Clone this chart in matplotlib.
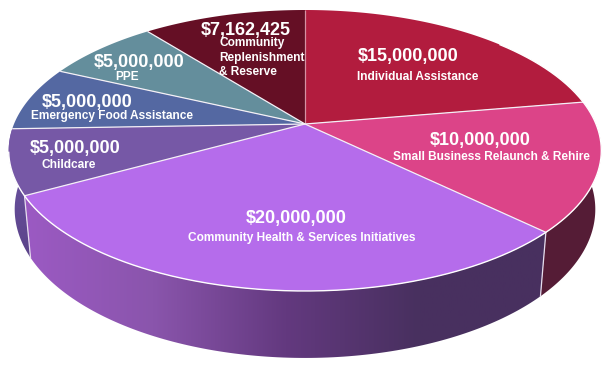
import numpy as np
import matplotlib
matplotlib.use('Agg')
import matplotlib.pyplot as plt
from matplotlib.colors import LinearSegmentedColormap
from matplotlib.patches import Polygon

plt.rcParams['font.family'] = ['Liberation Sans', 'DejaVu Sans']

# slices, clockwise from 12 o'clock
categories = ['Individual Assistance', 'Small Business Relaunch & Rehire',
              'Community Health & Services Initiatives', 'Childcare',
              'Emergency Food Assistance', 'PPE',
              'Community\nReplenishment\n& Reserve']
values = [15000000, 10000000, 20000000, 5000000, 5000000, 5000000, 7162425]
top_colors = ['#B21C3E', '#DC4488', '#B56CEB', '#7658A6', '#5468A2', '#648E9C', '#650F25']

# text anchors in pixels
value_pos = [(408, 56), (480, 140), (296, 218), (75, 148), (87, 102), (139, 63), (246, 30)]
label_pos = [(418, 76.5), (491, 156.5), (302, 237.5), (69, 164.5), (112, 116.5), (127, 77.5), (219, 57.5)]

# camera settings for the tilted disc
CX, CY = 305, 124
A, B = 291, 135.5
K = 0.1886
DEPTH, M = 59, 0.02


def project(theta, z=0.0):
    X = np.sin(theta)
    Y = np.cos(theta)
    w = 1 + K * Y + M * z
    return CX + A * X / w, CY + (DEPTH * z - B * Y) / w


def wall_points(t0, t1):
    t = np.linspace(t0, t1, 120)
    xt, yt = project(t)
    xb, yb = project(t, z=1.0)
    return np.column_stack([np.r_[xt, xb[::-1]], np.r_[yt, yb[::-1]]])


def gradient_wall(ax, t0, t1, stops, extent, vertical=False):
    cmap = LinearSegmentedColormap.from_list('wall', stops)
    grad = np.linspace(0, 1, 256)
    grad = grad.reshape(-1, 1) if vertical else grad.reshape(1, -1)
    im = ax.imshow(grad, cmap=cmap, extent=extent, origin='upper', aspect='auto', zorder=2)
    im.set_clip_path(Polygon(wall_points(t0, t1), closed=True, transform=ax.transData))


fig = plt.figure(figsize=(6.11, 3.68), dpi=100)
ax = fig.add_axes([0, 0, 1, 1])

edges = np.r_[0, np.cumsum(values)] / np.sum(values) * 2 * np.pi

# side walls first, the top covers whatever is hidden
gradient_wall(ax, edges[3], edges[4] + 0.3, ['#7058A8', '#5A4288'], (0, 60, 262, 130), vertical=True)
ax.fill(*wall_points(edges[1], edges[2]).T, color='#551C36', lw=0, zorder=2)
gradient_wall(ax, edges[2], edges[3],
              ['#9C5AC4', '#8A55AC', '#63397F', '#48305F', '#483060'], (20, 552, 368, 0))

# wall seams
for e in [edges[2], edges[3]]:
    xt, yt = project(e)
    xb, yb = project(e, z=1.0)
    ax.plot([xt, xb], [yt, yb], color='#E6DDEE', lw=0.9, zorder=3)

# top slices
for i in range(len(values)):
    t = np.linspace(edges[i], edges[i + 1], 200)
    x, y = project(t)
    ax.fill(np.r_[CX, x], np.r_[CY, y], color=top_colors[i], lw=0, zorder=4)

# white seams between slices and around the front rim
for i, e in enumerate(edges[:-1]):
    x, y = project(e)
    ax.plot([CX, x], [CY, y], color='#F4F0F6', lw=0.9, zorder=5,
            solid_capstyle='butt', alpha=0.55 if i == 0 else 1)
t = np.linspace(edges[1] - 0.55, edges[3] + 0.3, 400)
ax.plot(*project(t), color='white', lw=1.0, zorder=5)

for i, name in enumerate(categories):
    vx, vy = value_pos[i]
    lx, ly = label_pos[i]
    ax.text(vx, vy, f'${values[i]:,}', color='white', fontsize=13, fontweight='bold',
            ha='center', va='center', zorder=6)
    multi = '\n' in name
    ax.text(lx, ly, name, color='white', fontsize=8.6, fontweight='bold',
            ha='left' if multi else 'center', va='center', linespacing=1.28, zorder=6)

ax.set_xlim(0, 611)
ax.set_ylim(368, 0)
ax.axis('off')

fig.savefig('out.png', dpi=100)
plt.close(fig)
